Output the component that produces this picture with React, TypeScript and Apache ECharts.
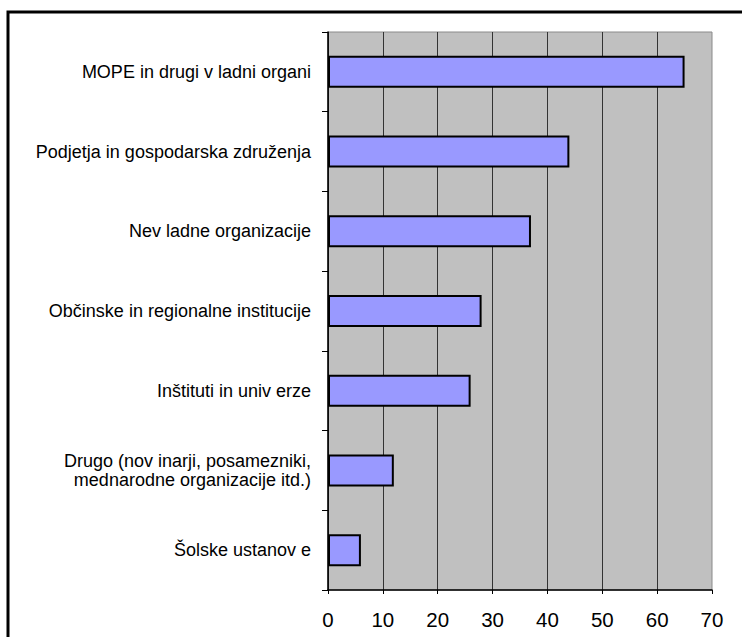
import React, { useEffect, useRef } from "react";
import * as echarts from "echarts";

const categories = [
  "MOPE in drugi v ladni organi",
  "Podjetja in gospodarska združenja",
  "Nev ladne organizacije",
  "Občinske in regionalne institucije",
  "Inštituti in univ erze",
  "Drugo (nov inarji, posamezniki,\nmednarodne organizacije itd.)",
  "Šolske ustanov e",
];
const values = [65, 44, 37, 28, 26, 12, 6];
const xMin = 0;
const xMax = 70;
const xInterval = 10;

const FONT = "'Liberation Sans', Arial, sans-serif";

export default function App() {
  const ref = useRef<HTMLDivElement>(null);
  useEffect(() => {
    if (!ref.current) return;
    const chart = echarts.init(ref.current, null, { renderer: "svg" });
    chart.setOption({
      animation: false,
      backgroundColor: "#ffffff",
      textStyle: { fontFamily: FONT },
      graphic: [
        {
          type: "rect",
          shape: { x: 8, y: 12, width: 760, height: 700 },
          style: { fill: "none", stroke: "#000", lineWidth: 3 },
          silent: true,
          z: 100,
        },
      ],
      grid: {
        left: 328,
        top: 32,
        width: 384,
        height: 558,
        show: true,
        backgroundColor: "#c0c0c0",
        borderColor: "#8a8a8a",
        borderWidth: 1,
      },
      xAxis: {
        type: "value",
        min: xMin,
        max: xMax,
        interval: xInterval,
        axisLine: { show: true, lineStyle: { color: "#000", width: 1.5 } },
        axisTick: { show: true, length: 4, lineStyle: { color: "#000" } },
        axisLabel: {
          color: "#000",
          fontSize: 20.5,
          margin: 19,
          fontFamily: FONT,
        },
        splitLine: {
          show: true,
          showMaxLine: false,
          lineStyle: { color: "#333", width: 1 },
        },
      },
      yAxis: {
        type: "category",
        inverse: true,
        data: categories,
        axisLine: { show: true, lineStyle: { color: "#000", width: 1.5 } },
        axisTick: { show: true, length: 6, lineStyle: { color: "#000" } },
        axisLabel: {
          color: "#000",
          fontSize: 18,
          lineHeight: 19,
          margin: 17,
          align: "right",
          fontFamily: FONT,
        },
        splitLine: { show: false },
      },
      series: [
        {
          type: "bar",
          data: values,
          barWidth: 32,
          itemStyle: { color: "#9999ff", borderColor: "#000", borderWidth: 2 },
        },
      ],
    });
    return () => chart.dispose();
  }, []);
  return (
    <div
      ref={ref}
      style={{ position: "absolute", left: 0, top: 0, width: 742, height: 637 }}
    />
  );
}
